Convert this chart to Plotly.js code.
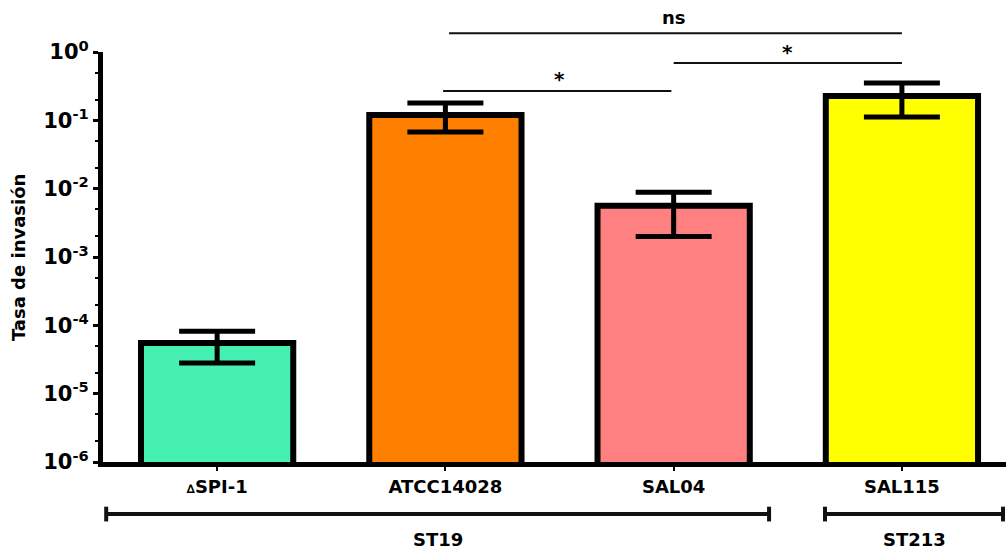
<!DOCTYPE html>
<html>
<head>
<meta charset="utf-8">
<script src="https://cdn.plot.ly/plotly-3.0.1.min.js"></script>
<style>html,body{margin:0;padding:0;background:#fff;}#chart{width:1006px;height:552px;}</style>
</head>
<body>
<div id="chart"></div>
<script>
// ---- data ----
const categories = ['∆SPI-1', 'ATCC14028', 'SAL04', 'SAL115'];
const tickLabels = ["<span style='font-size:12px'>∆</span>SPI-1", 'ATCC14028', 'SAL04', 'SAL115'];
const means = [5.5e-5, 0.12, 0.0056, 0.227];
const upper = [8.2e-5, 0.179, 0.0089, 0.352];
const lower = [2.8e-5, 0.0675, 0.0020, 0.112];
const barColors = ['#45F0B0', '#FF8000', '#FF8080', '#FFFF00'];
const yTickVals = [1e-6, 1e-5, 1e-4, 1e-3, 1e-2, 1e-1, 1];
const yTickText = ['10<sup>-6</sup>', '10<sup>-5</sup>', '10<sup>-4</sup>', '10<sup>-3</sup>', '10<sup>-2</sup>', '10<sup>-1</sup>', '10<sup>0</sup>'];
const compFrom = [1, 2, 1];
const compTo = [2, 3, 3];
const compLabels = ['*', '*', 'ns'];
const groupLabels = ['ST19', 'ST213'];
const groupFirst = [0, 3];
const groupLast = [2, 3];
const yTitle = 'Tasa de invasión';

// ---- drawing ----
const FONT = 'DejaVu Sans, Liberation Sans, Arial, sans-serif';
const xs = categories.map((c, i) => i);

const trace = {
  type: 'bar',
  x: xs,
  y: means,
  width: 0.667,
  marker: { color: barColors, line: { color: '#000', width: 6 } },
  error_y: {
    type: 'data', symmetric: false,
    array: means.map((m, i) => upper[i] - m),
    arrayminus: means.map((m, i) => m - lower[i]),
    color: '#000', thickness: 5, width: 38
  },
  hoverinfo: 'skip'
};

const shapes = [];
const annotations = [];

// significance brackets
const compY = [0.905, 0.973, 1.046];
const compPadL = [-0.01, 0.0, 0.016];
const compPadR = [-0.01, 0.0, 0.0];
for (let k = 0; k < compLabels.length; k++) {
  const isNs = compLabels[k] === 'ns';
  shapes.push({ type: 'line', xref: 'x', yref: 'paper',
    x0: compFrom[k] + compPadL[k], x1: compTo[k] + compPadR[k],
    y0: compY[k], y1: compY[k], line: { color: '#111', width: 2 } });
  annotations.push({ xref: 'x', yref: 'paper',
    x: (compFrom[k] + compTo[k]) / 2, y: compY[k] + (isNs ? 0.008 : -0.006),
    yanchor: 'bottom', showarrow: false, text: compLabels[k],
    font: { family: FONT, size: isNs ? 18 : 20, color: '#000', weight: 'bold' } });
}

// group brackets under the axis
const gPadL = [-0.486, -0.337];
const gPadR = [0.418, 0.443];
const gY = -0.127, capH = 0.018;
for (let g = 0; g < groupLabels.length; g++) {
  const a = groupFirst[g] + gPadL[g], b = groupLast[g] + gPadR[g];
  shapes.push({ type: 'line', xref: 'x', yref: 'paper', x0: a, x1: b, y0: gY, y1: gY, line: { color: '#111', width: 4 } });
  [a, b].forEach(xx => shapes.push({ type: 'line', xref: 'x', yref: 'paper', x0: xx, x1: xx, y0: gY - capH, y1: gY + capH, line: { color: '#111', width: 4 } }));
  annotations.push({ xref: 'x', yref: 'paper', x: (a + b) / 2, y: -0.19, yanchor: 'middle', showarrow: false,
    text: groupLabels[g], font: { family: FONT, size: 18, color: '#000', weight: 'bold' } });
}

// y-axis title
annotations.push({ xref: 'paper', yref: 'paper', x: -0.094, y: 0.5, xanchor: 'center', yanchor: 'middle',
  showarrow: false, textangle: -90,
  text: yTitle, font: { family: FONT, size: 18, color: '#000', weight: 'bold' } });

const layout = {
  width: 1006, height: 552,
  margin: { l: 103, r: 0, t: 52, b: 90 },
  paper_bgcolor: '#fff', plot_bgcolor: '#fff',
  showlegend: false,
  xaxis: {
    range: [-0.5, 3.456], tickvals: xs, ticktext: tickLabels,
    showline: true, linecolor: '#000', linewidth: 5, showgrid: false, zeroline: false,
    ticks: 'outside', ticklen: 4, tickwidth: 2, tickcolor: '#000',
    tickfont: { family: FONT, size: 18, color: '#000', weight: 'bold' }
  },
  yaxis: {
    type: 'log', range: [-6, 0], tickvals: yTickVals, ticktext: yTickText,
    showline: true, linecolor: '#000', linewidth: 5, showgrid: false, zeroline: false,
    ticks: 'outside', ticklen: 5, tickwidth: 3, tickcolor: '#000',
    minor: { ticks: 'outside', ticklen: 3, tickwidth: 2, tickcolor: '#000', showgrid: false },
    tickfont: { family: FONT, size: 21, color: '#000', weight: 'bold' }
  },
  shapes: shapes,
  annotations: annotations
};

Plotly.newPlot('chart', [trace], layout, { staticPlot: true, displayModeBar: false });
</script>
</body>
</html>
